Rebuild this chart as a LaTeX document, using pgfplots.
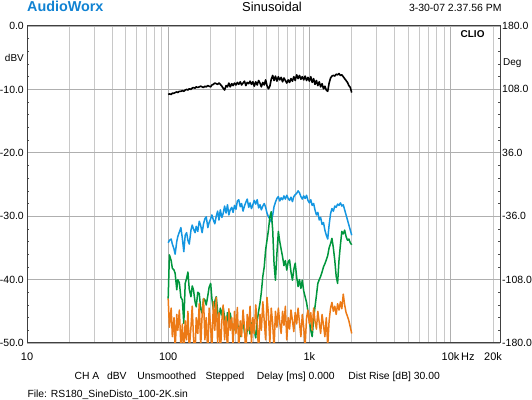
\documentclass[border=0pt]{standalone}
\usepackage{pgfplots}
\pgfplotsset{compat=1.18}
\usepackage{pgfplotstable}
\usepackage{fontspec}
\setmainfont{Liberation Sans}
\definecolor{awblue}{RGB}{16,130,210}
\definecolor{cblue}{RGB}{20,150,225}
\definecolor{cgreen}{RGB}{0,150,60}
\definecolor{corange}{RGB}{236,122,22}
\definecolor{gridc}{RGB}{200,200,200}
\definecolor{gridh}{RGB}{175,175,175}
\pgfplotstableread{
f black blue green orange
100 -10.8 -34.2 -43.0 -43.0
102 -10.7 -33.8 -36.1 -47.5
105 -10.8 -33.6 -37.0 -44.5
107 -10.6 -34.4 -38.2 -49.0
110 -10.6 -35.2 -38.5 -46.0
112 -10.5 -36.0 -39.0 -51.0
115 -10.4 -34.0 -41.6 -45.5
117 -10.5 -33.2 -40.0 -48.0
120 -10.3 -32.5 -40.5 -44.8
123 -10.3 -31.8 -42.8 -50.5
126 -10.2 -33.5 -43.2 -47.0
129 -10.3 -35.6 -46.9 -52.0
132 -10.1 -33.0 -40.6 -46.5
135 -10.0 -32.6 -39.8 -49.5
138 -10.1 -33.8 -38.8 -45.0
141 -9.9 -34.4 -41.5 -51.0
145 -10.0 -32.2 -42.7 -47.5
148 -9.8 -31.4 -41.0 -44.2
151 -9.7 -32.0 -41.6 -49.0
155 -9.8 -32.6 -43.5 -52.0
158 -9.6 -31.6 -44.3 -46.0
162 -9.7 -32.4 -42.0 -48.5
166 -9.6 -30.8 -42.2 -43.8
170 -9.5 -31.5 -44.6 -50.5
174 -9.6 -32.6 -45.3 -45.5
178 -9.7 -31.2 -43.0 -43.0
182 -9.5 -30.4 -43.2 -49.5
186 -9.6 -30.1 -44.0 -46.0
191 -9.4 -31.8 -42.5 -52.0
195 -9.5 -31.0 -41.2 -44.5
200 -9.6 -30.4 -40.6 -47.5
204 -9.3 -29.8 -43.0 -51.0
209 -9.2 -30.6 -44.8 -43.5
214 -9.0 -31.2 -43.4 -48.0
219 -9.1 -30.0 -42.7 -42.8
224 -9.2 -29.2 -45.0 -50.0
229 -9.0 -30.6 -46.4 -45.2
234 -9.2 -29.0 -44.5 -52.0
240 -9.5 -30.2 -45.6 -46.5
245 -9.8 -29.6 -44.3 -44.0
251 -10.1 -28.4 -46.0 -49.5
257 -9.4 -29.5 -47.4 -45.8
263 -9.6 -28.2 -45.2 -51.5
269 -9.0 -29.8 -47.0 -44.6
275 -9.6 -29.0 -45.3 -48.0
282 -9.1 -28.6 -46.8 -46.0
288 -9.4 -29.4 -48.5 -50.5
295 -9.0 -28.3 -47.0 -45.0
302 -9.3 -28.9 -48.2 -48.5
309 -8.9 -27.6 -46.9 -44.4
316 -9.2 -27.4 -47.8 -51.0
324 -8.8 -28.5 -49.0 -46.5
331 -9.3 -28.0 -47.5 -49.0
339 -9.0 -29.2 -46.4 -44.8
347 -8.7 -28.4 -48.3 -47.5
355 -9.4 -27.8 -49.5 -52.0
363 -8.9 -27.3 -48.0 -45.5
372 -9.1 -28.6 -47.2 -48.0
380 -8.7 -27.9 -48.6 -44.2
389 -9.2 -28.8 -46.8 -50.0
398 -8.8 -28.2 -47.6 -46.0
407 -9.5 -27.5 -48.0 -48.5
417 -8.8 -28.1 -49.2 -44.0
427 -9.3 -27.4 -46.5 -47.0
437 -8.6 -28.7 -45.0 -51.5
447 -9.0 -28.2 -43.7 -45.5
457 -9.6 -29.0 -42.0 -48.0
468 -8.9 -28.4 -39.5 -43.5
479 -9.3 -28.0 -38.0 -46.5
490 -8.5 -28.6 -35.3 -49.5
501 -9.4 -29.5 -33.8 -42.8
513 -9.9 -30.1 -32.2 -45.5
525 -9.5 -30.4 -30.1 -50.0
537 -8.4 -30.9 -29.3 -44.5
550 -7.8 -29.8 -32.2 -47.0
562 -8.6 -28.5 -37.4 -51.0
575 -7.9 -27.8 -40.1 -45.0
589 -8.7 -27.2 -35.9 -47.5
603 -8.0 -26.9 -32.4 -44.5
617 -8.5 -27.6 -34.0 -46.8
631 -8.1 -27.1 -35.2 -48.5
646 -8.8 -27.4 -36.4 -45.0
661 -8.2 -26.8 -37.8 -47.2
676 -8.6 -27.3 -37.0 -44.2
692 -9.0 -26.7 -38.5 -49.5
708 -8.5 -27.2 -37.2 -46.0
724 -8.9 -27.5 -36.9 -47.8
741 -8.3 -27.0 -38.8 -44.8
759 -8.7 -27.7 -40.1 -46.5
776 -8.0 -26.9 -38.4 -48.2
794 -8.6 -26.6 -37.4 -45.2
813 -7.7 -26.4 -39.6 -47.0
832 -8.3 -26.0 -41.1 -44.5
851 -7.8 -26.3 -40.0 -46.8
871 -8.4 -26.9 -41.4 -49.0
891 -8.0 -27.3 -40.1 -45.5
912 -8.5 -26.8 -41.8 -47.5
933 -7.9 -27.2 -42.7 -50.5
955 -8.6 -26.7 -43.6 -46.0
977 -8.1 -27.5 -45.0 -44.8
1000 -8.7 -27.9 -46.4 -47.0
1023 -8.0 -27.4 -48.0 -45.2
1047 -8.9 -28.3 -49.0 -48.0
1072 -8.3 -28.0 -46.2 -44.5
1096 -9.2 -29.0 -44.3 -46.5
1122 -8.6 -29.8 -42.5 -47.8
1148 -9.4 -29.4 -40.6 -45.0
1175 -8.8 -30.6 -40.0 -46.8
1202 -9.6 -30.2 -39.5 -48.5
1230 -9.1 -31.3 -38.8 -45.5
1259 -9.9 -31.0 -38.0 -47.2
1288 -9.5 -32.2 -37.5 -49.0
1318 -10.1 -33.0 -36.9 -46.0
1349 -10.3 -33.6 -36.2 -50.5
1380 -9.0 -31.4 -35.0 -46.5
1413 -8.2 -29.6 -34.3 -44.5
1445 -7.9 -28.8 -33.5 -43.6
1479 -7.8 -29.2 -35.0 -45.0
1514 -7.9 -28.4 -37.0 -44.2
1549 -7.6 -28.6 -39.5 -45.5
1585 -7.7 -28.1 -40.6 -43.8
1622 -7.5 -28.3 -36.9 -44.8
1660 -7.8 -27.9 -34.5 -43.5
1698 -7.7 -28.4 -32.4 -44.6
1738 -8.0 -28.2 -32.8 -42.3
1778 -8.3 -29.0 -32.2 -44.0
1820 -8.6 -29.8 -33.2 -45.2
1862 -8.9 -30.6 -33.8 -45.8
1905 -9.4 -31.4 -33.6 -46.5
1950 -9.7 -32.2 -34.2 -47.5
1995 -10.5 -33.0 -34.5 -48.5
}\data
\begin{document}
\begin{tikzpicture}
\useasboundingbox (0,0) rectangle (532bp,400bp);
\begin{axis}[
  at={(27bp,57bp)}, anchor=south west, scale only axis,
  width=473bp, height=317bp,
  xmode=log, xmin=10, xmax=22400, ymin=-50, ymax=0,
  xtick={10,100,1000,10000}, xticklabels={10,100,1k,10k},
  minor xtick={20,30,40,50,60,70,80,90,200,300,400,500,600,700,800,900,2000,3000,4000,5000,6000,7000,8000,9000,20000},
  extra x ticks={20000}, extra x tick labels={20k}, extra x tick style={grid=none},
  ytick={-50,-40,-30,-20,-10,0},
  yticklabels={-50.0,-40.0,-30.0,-20.0,-10.0,0.0},
  minor y tick num=4,
  xmajorgrids, xminorgrids, ymajorgrids,
  major grid style={gridh, line width=0.8bp},
  minor grid style={gridc, line width=0.8bp},
  x tick style={draw=none},
  y tick style={draw=black!70, line width=0.6bp},
  major tick length=0pt, minor tick length=2bp,
  ytick pos=left,
  axis line style={draw=black!75, line width=1bp},
  xticklabel style={font=\fontsize{11}{13}\selectfont, anchor=base, inner sep=0pt, yshift=-17.5bp},
  yticklabel style={font=\fontsize{10.5}{12}\selectfont, anchor=east, inner sep=0pt, xshift=-3bp},
  clip=true,
]
\addplot[cblue, line width=1.5bp, line join=round] table[x=f, y=blue] {\data};
\addplot[cgreen, line width=1.5bp, line join=round] table[x=f, y=green] {\data};
\addplot[corange, line width=1.5bp, line join=round] table[x=f, y=orange] {\data};
\addplot[black, line width=1.6bp, line join=round] table[x=f, y=black] {\data};
\end{axis}
\begin{axis}[
  at={(27bp,57bp)}, anchor=south west, scale only axis,
  width=473bp, height=317bp,
  xmode=log, xmin=10, xmax=22400, ymin=-180, ymax=180,
  axis x line=none, axis y line*=right,
  ytick={-180,-108,-36,36,108,180},
  yticklabels={-180.0,-108.0,-36.0,36.0,108.0,180.0},
  minor y tick num=4,
  major tick length=0pt, minor tick length=2bp,
  y tick style={draw=black!70, line width=0.6bp},
  axis line style={draw=black!75, line width=1bp},
  yticklabel style={font=\fontsize{10.5}{12}\selectfont, anchor=west, inner sep=0pt, xshift=2bp},
]
\addplot[draw=none] coordinates {(100,0)};
\end{axis}
\node[anchor=base west, inner sep=0pt, font=\bfseries\fontsize{14.4}{16}\selectfont, text=awblue] at (27bp,388bp) {AudioWorx};
\node[anchor=base, inner sep=0pt, font=\fontsize{13}{15}\selectfont] at (272bp,388bp) {Sinusoidal};
\node[anchor=base east, inner sep=0pt, font=\fontsize{10.5}{12}\selectfont] at (501.7bp,388.7bp) {3-30-07 2.37.56 PM};
\node[anchor=base east, inner sep=0pt, font=\bfseries\fontsize{10}{12}\selectfont] at (484.7bp,362.3bp) {CLIO};
\node[anchor=base east, inner sep=0pt, font=\fontsize{10}{12}\selectfont] at (24bp,338bp) {dBV};
\node[anchor=base west, inner sep=0pt, font=\fontsize{10}{12}\selectfont] at (503bp,334bp) {Deg};
\node[anchor=base west, inner sep=0pt, font=\fontsize{11}{13}\selectfont] at (461bp,39.5bp) {Hz};
\begin{scope}[every node/.style={anchor=base west, inner sep=0pt, font=\fontsize{10.4}{12}\selectfont}]
\node at (74.4bp,20.5bp) {CH A};
\node at (106.8bp,20.5bp) {dBV};
\node at (137.2bp,20.5bp) {Unsmoothed};
\node at (205.5bp,20.5bp) {Stepped};
\node at (256.7bp,20.5bp) {Delay [ms] 0.000};
\node at (348.1bp,20.5bp) {Dist Rise [dB] 30.00};
\node at (27.3bp,3bp) {File: RS180\_SineDisto\_100-2K.sin};
\end{scope}
\end{tikzpicture}
\end{document}
